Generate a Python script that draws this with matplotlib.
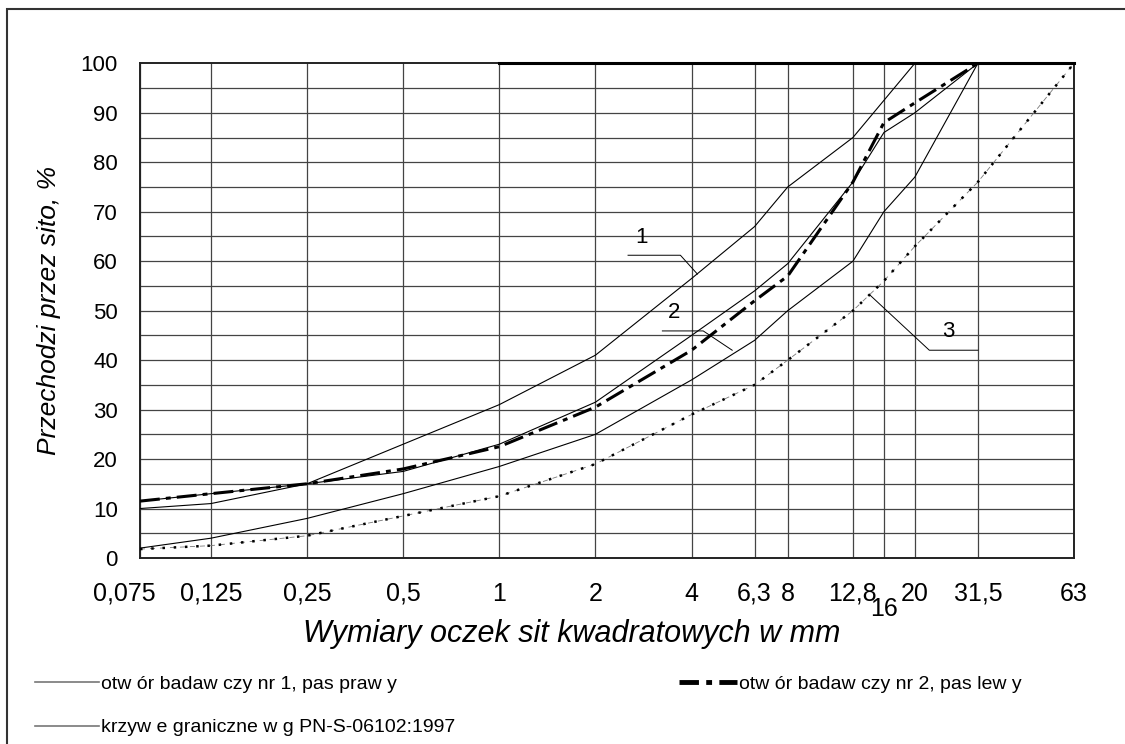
import matplotlib
matplotlib.use("Agg")
import matplotlib.pyplot as plt
from matplotlib.lines import Line2D
from matplotlib.patches import Rectangle
from matplotlib.transforms import ScaledTranslation

plt.rcParams['font.family'] = ['Liberation Sans', 'DejaVu Sans']

# sita (mm) i opisy osi
sizes = [0.075, 0.125, 0.25, 0.5, 1, 2, 4, 6.3, 8, 12.8, 16, 20, 31.5, 63]
size_labels = ["0,075", "0,125", "0,25", "0,5", "1", "2", "4", "6,3", "8",
               "12,8", "16", "20", "31,5", "63"]

# krzywe graniczne 1, 2, 3
curve1 = [10, 11, 15, 23, 31, 41, 56.5, 67, 75, 85, 92.5, 100, 100, 100]
curve2 = [2, 4, 8, 13, 18.5, 25, 36, 44, 50, 60, 70, 77, 100, 100]
curve3 = [1.8, 2.5, 4.5, 8.5, 12.5, 19, 29, 35, 40, 50, 56, 63, 76, 100]

# otwory badawcze
hole1 = [11.5, 13, 15, 17.5, 23, 31.5, 45, 54, 59.5, 76, 86, 90, 100, 100]
hole2 = [11.5, 13, 15, 18, 22.5, 30.5, 42, 52, 57, 76, 88, 92, 100, 100]
top_x = [1, 63]
top_y = [100, 100]

legend_labels = ["otw ór badaw czy nr 1, pas praw y",
                 "otw ór badaw czy nr 2, pas lew y",
                 "krzyw e graniczne w g PN-S-06102:1997"]

fig = plt.figure(figsize=(11.25, 7.44), dpi=100)
ax = fig.add_axes([140 / 1125, 1 - 558 / 744, 934 / 1125, (558 - 63.3) / 744])

ax.set_xscale("log")
ax.set_xlim(0.075, 63)
ax.set_ylim(0, 100)

# siatka
for s in sizes:
    ax.axvline(s, color="#444444", lw=0.9, zorder=1)
for v in range(5, 100, 5):
    ax.axhline(v, color="#444444", lw=0.9, zorder=1)

ax.plot(sizes, curve1, color="black", lw=0.8, zorder=3)
ax.plot(sizes, curve2, color="black", lw=0.8, zorder=3)
ax.plot(sizes, hole1, color="black", lw=0.8, zorder=3)
ax.plot(sizes, curve3, color="#777777", lw=0.6, dashes=(6, 6), zorder=3)
ax.plot(sizes, curve3, color="black", lw=1.8, dashes=(1, 3.5), zorder=4)
ax.plot(sizes, hole2, color="black", lw=2.2, dashes=(6.5, 2, 1.6, 2), zorder=5)
ax.plot(top_x, top_y, color="black", lw=2.2, zorder=5, clip_on=False)

# opisy krzywych
ax.plot([2.53, 3.69, 4.17], [61.2, 61.2, 57.4], color="black", lw=0.7, zorder=6)
ax.text(2.78, 64.8, "1", fontsize=16, ha="center", va="center")
ax.plot([3.24, 4.35, 5.36], [45.9, 45.9, 42.0], color="black", lw=0.7, zorder=6)
ax.text(3.53, 49.7, "2", fontsize=16, ha="center", va="center")
ax.plot([14.5, 22.2, 31.5], [53.1, 42.0, 42.0], color="black", lw=0.7, zorder=6)
ax.text(25.5, 45.7, "3", fontsize=16, ha="center", va="center")

ax.set_xticks(sizes)
ax.set_xticklabels(size_labels)
ax.xaxis.set_minor_locator(plt.NullLocator())
ax.set_yticks(range(0, 101, 10))
ax.tick_params(axis="both", length=0)
ax.tick_params(axis="x", pad=17, labelsize=18)
ax.tick_params(axis="y", pad=16, labelsize=16)
ticks = ax.xaxis.get_major_ticks()
ticks[size_labels.index("16")].set_pad(28)
first = ticks[0].label1
first.set_transform(first.get_transform() + ScaledTranslation(-0.16, 0, fig.dpi_scale_trans))

for sp in ax.spines.values():
    sp.set_color("#222222")
    sp.set_linewidth(1.4)

ax.set_xlabel("Wymiary oczek sit kwadratowych w mm", fontsize=22, style="italic", va="center")
ax.xaxis.set_label_coords((572 - 140) / 934, (558 - 634) / 494.7)
ax.set_ylabel("Przechodzi przez sito, %", fontsize=19, style="italic", labelpad=14)

# legenda
h1 = Line2D([], [], color="#777777", lw=1.2)
h2 = Line2D([], [], color="black", lw=3.5, dashes=(4, 1.5, 1.2, 1.5))
h3 = Line2D([], [], color="#777777", lw=1.2)
fig.legend([h1, h3], [legend_labels[0], legend_labels[2]], loc="upper left",
           bbox_to_anchor=(35 / 1125, 1 - 675 / 744), frameon=False, fontsize=14,
           handlelength=3.3, handletextpad=0.1, labelspacing=1.35, borderpad=0,
           borderaxespad=0)
fig.legend([h2], [legend_labels[1]], loc="upper right",
           bbox_to_anchor=(1022 / 1125, 1 - 675 / 744), frameon=False, fontsize=14,
           handlelength=3.0, handletextpad=0.1, borderpad=0, borderaxespad=0)

# ramka
fig.patches.append(Rectangle((7 / 1125, -0.1), 1.2, 1.1 - 9 / 744, transform=fig.transFigure,
                             fill=False, edgecolor="#333333", lw=1.5))

fig.savefig("out.png", dpi=100)
